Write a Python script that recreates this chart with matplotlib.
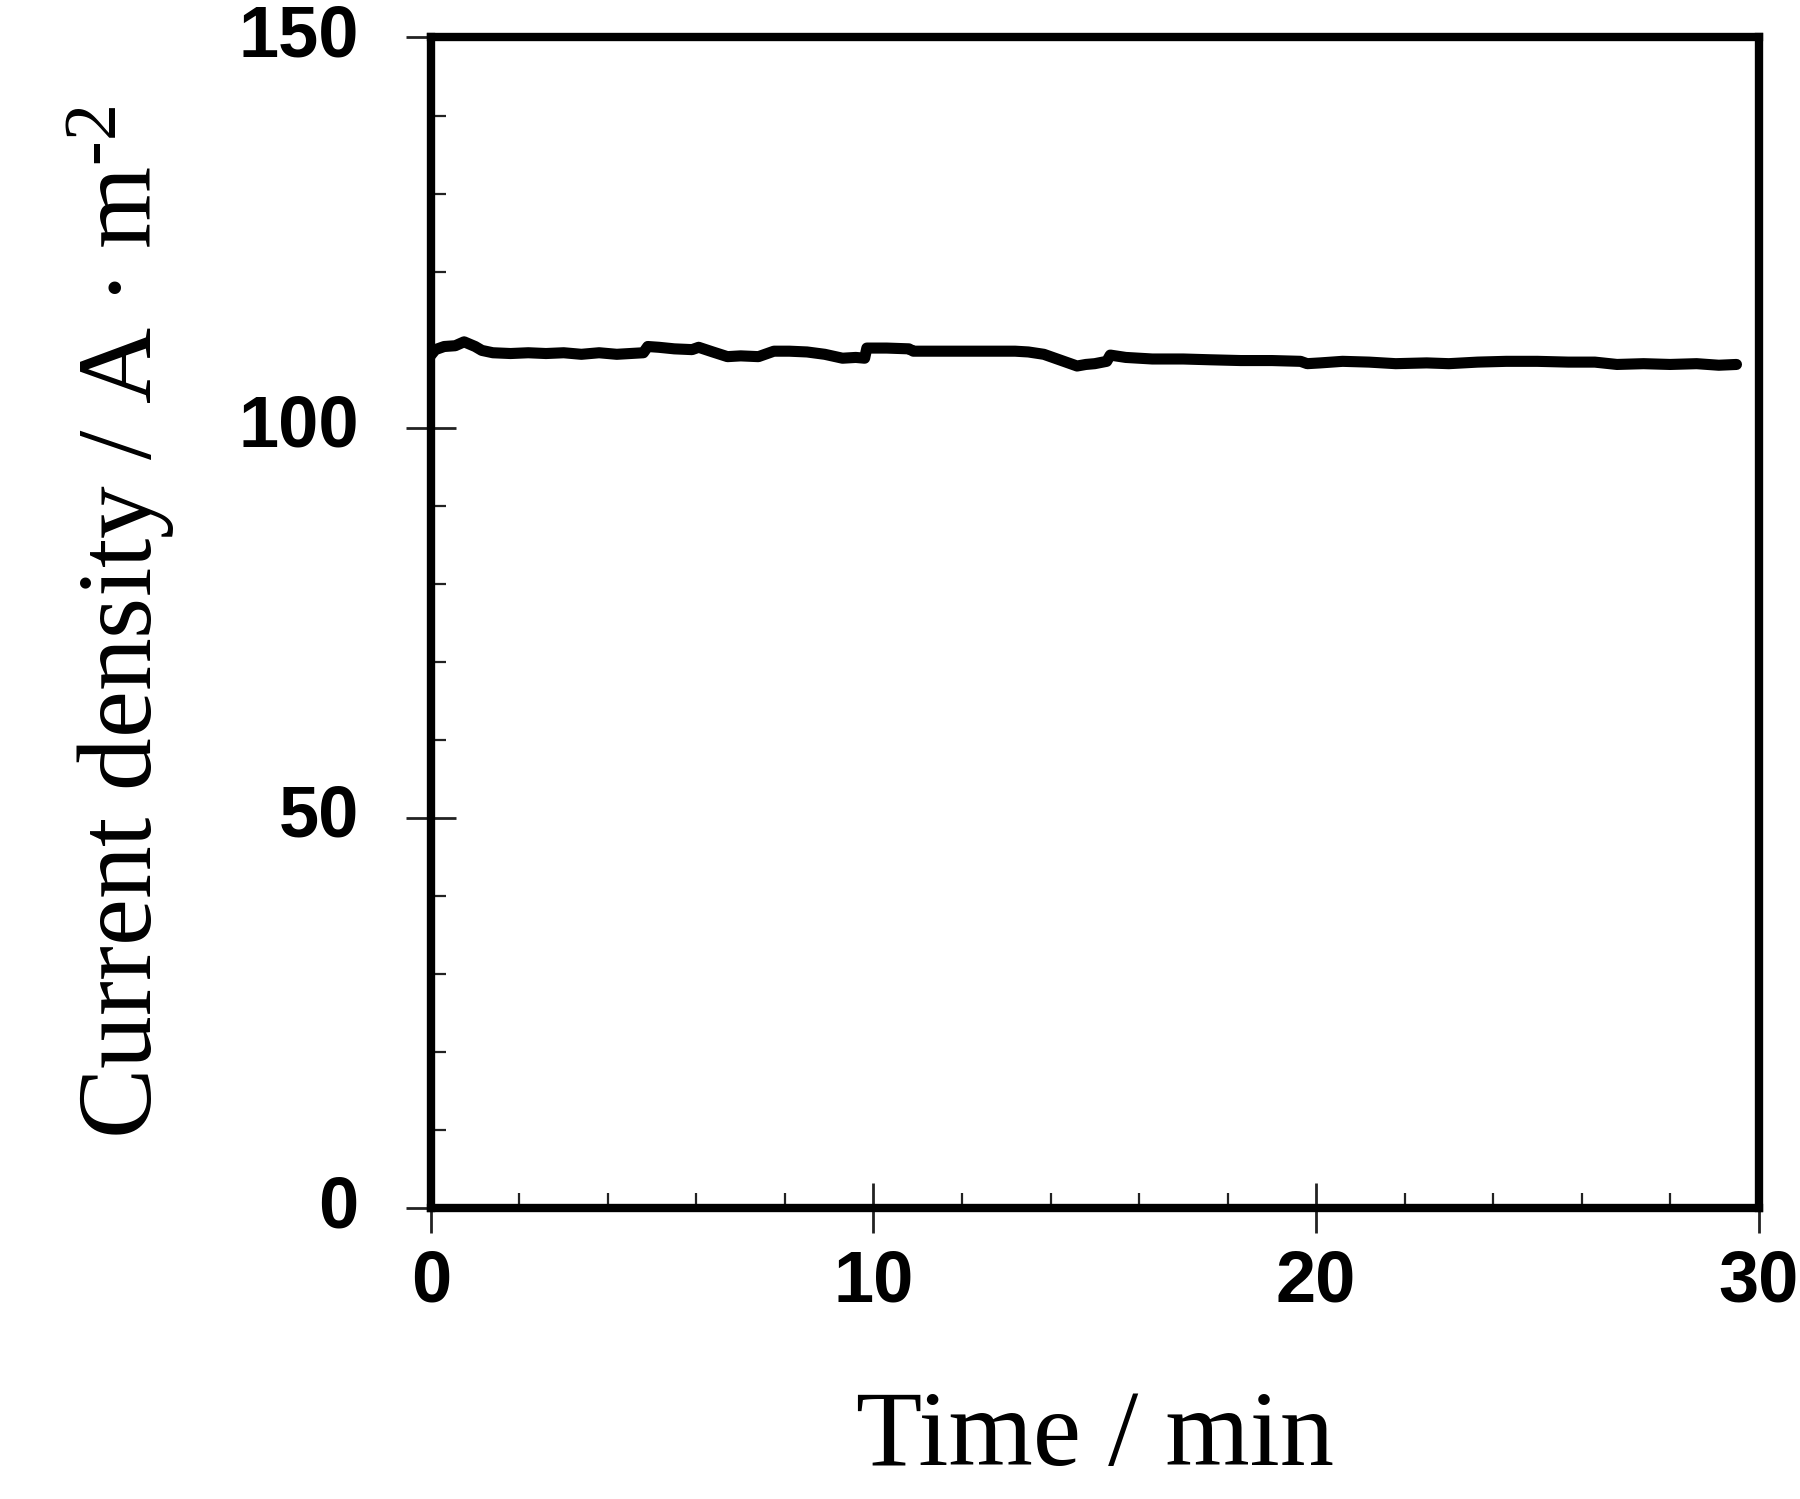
import matplotlib
matplotlib.use("Agg")
import matplotlib.pyplot as plt
from matplotlib.ticker import MultipleLocator

# Current density trace (time in min, A/m^2)
time_min = [0.0, 0.1, 0.3, 0.55, 0.75, 1.0, 1.15, 1.4, 1.8, 2.2, 2.6, 3.0, 3.4, 3.8,
            4.2, 4.5, 4.8, 4.9, 5.15, 5.5, 5.9, 6.05, 6.37, 6.7, 7.0, 7.4, 7.75, 8.1,
            8.5, 8.9, 9.3, 9.6, 9.8, 9.85, 10.3, 10.8, 10.9, 11.4, 12.0, 12.6, 13.2,
            13.5, 13.85, 14.2, 14.6, 14.8, 15.0, 15.27, 15.35, 15.7, 16.3, 17.0, 17.6,
            18.3, 19.0, 19.65, 19.8, 20.1, 20.6, 21.2, 21.8, 22.5, 23.0, 23.65, 24.3,
            25.0, 25.7, 26.3, 26.8, 27.4, 28.0, 28.6, 29.1, 29.5]
current_density = [109.3, 110.0, 110.4, 110.5, 111.0, 110.4, 109.9, 109.6, 109.5, 109.6,
                   109.5, 109.6, 109.4, 109.6, 109.4, 109.5, 109.6, 110.4, 110.3, 110.1,
                   110.0, 110.3, 109.7, 109.1, 109.2, 109.1, 109.8, 109.8, 109.7, 109.4,
                   108.9, 109.0, 108.9, 110.2, 110.2, 110.1, 109.8, 109.8, 109.8, 109.8,
                   109.8, 109.7, 109.4, 108.7, 107.9, 108.1, 108.2, 108.5, 109.3, 109.0,
                   108.8, 108.8, 108.7, 108.6, 108.6, 108.5, 108.2, 108.3, 108.5, 108.4,
                   108.2, 108.3, 108.2, 108.4, 108.5, 108.5, 108.4, 108.4, 108.1, 108.2,
                   108.1, 108.2, 108.0, 108.1]

x_ticks = [0, 10, 20, 30]
y_ticks = [0, 50, 100, 150]

plt.rcParams['mathtext.fontset'] = 'custom'
plt.rcParams['mathtext.rm'] = 'Liberation Serif'
plt.rcParams['mathtext.it'] = 'Liberation Serif:italic'

fig = plt.figure(figsize=(18, 14.99), dpi=100)
ax = fig.add_axes([0.2394, 0.1941, 0.7376, 0.7809])

ax.plot(time_min, current_density, color='black', linewidth=8, solid_capstyle='round')

ax.set_xlim(0, 30)
ax.set_ylim(0, 150)
ax.set_xticks(x_ticks)
ax.set_yticks(y_ticks)
ax.xaxis.set_minor_locator(MultipleLocator(2))
ax.yaxis.set_minor_locator(MultipleLocator(10))

for spine in ax.spines.values():
    spine.set_linewidth(6)

ax.tick_params(which='major', direction='inout', length=36, width=2, color='#222222')
ax.tick_params(axis='x', which='major', pad=11)
ax.tick_params(axis='y', which='major', pad=34)
ax.tick_params(which='minor', direction='in', length=11, width=1.6, color='#222222')

for lab in ax.get_xticklabels() + ax.get_yticklabels():
    lab.set_fontfamily('Liberation Sans')
    lab.set_fontweight('bold')
    lab.set_fontsize(52)
for lab in ax.get_yticklabels():
    lab.set_verticalalignment('center')

ax.set_xlabel('Time / min', fontfamily='Liberation Serif', fontsize=78, labelpad=53)
ax.set_ylabel('Current density / A \u2219 m$^{\u2010 2}$',
              fontfamily=['Liberation Serif', 'DejaVu Serif'],
              fontsize=76, labelpad=45)

fig.savefig('out.png', dpi=100, facecolor='white')
